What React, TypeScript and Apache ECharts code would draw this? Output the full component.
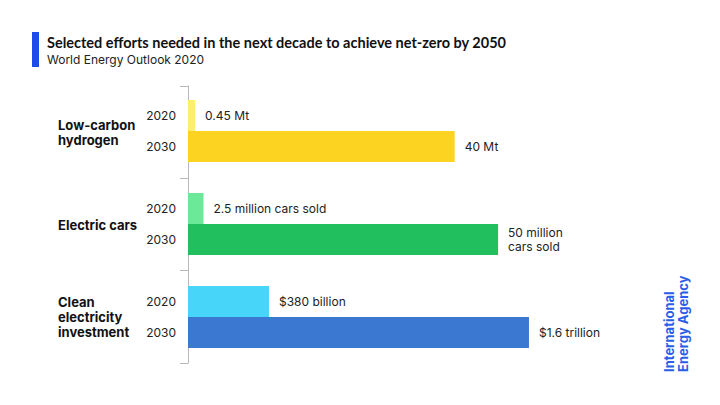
import React, { useEffect, useRef } from "react";
import * as echarts from "echarts";

const groups = ["Low-carbon\nhydrogen", "Electric cars", "Clean\nelectricity\ninvestment"];
const years = ["2020", "2030"];
const hydrogenValues = [0.45, 40]; // Mt
const carsValues = [2.5, 50]; // million cars sold
const investmentValues = [380, 1600]; // billion USD
const hydrogenLabels = ["0.45 Mt", "40 Mt"];
const carsLabels = ["2.5 million cars sold", "50 million\ncars sold"];
const investmentLabels = ["$380 billion", "$1.6 trillion"];
const groupAxisMax = [60, 64.5, 1877];

const groupValues = [hydrogenValues, carsValues, investmentValues];
const groupLabels = [hydrogenLabels, carsLabels, investmentLabels];
const groupColors = [
  ["#fdef6b", "#fbd320"],
  ["#6ce899", "#21bf5d"],
  ["#48d5fa", "#3a78d2"],
];
const groupTops = [100, 193, 286];

const FONT = "Inter, 'Noto Sans', sans-serif";
const TITLE_FONT = "Lato, Inter, sans-serif";

export default function App() {
  const ref = useRef<HTMLDivElement>(null);
  useEffect(() => {
    document.body.style.margin = "0";
    const chart = echarts.init(ref.current!, null, { renderer: "svg" });
    const grids: any[] = [{ left: 188, top: 86, width: 400, height: 277 }];
    const xAxes: any[] = [{ gridIndex: 0, type: "value", show: false, min: 0, max: 1 }];
    const yAxes: any[] = [
      {
        gridIndex: 0,
        type: "category",
        inverse: true,
        data: groups,
        axisLine: { show: true, lineStyle: { color: "#b8b8b8", width: 1 } },
        axisTick: { show: true, length: 8, lineStyle: { color: "#b8b8b8" } },
        axisLabel: {
          align: "left",
          margin: 130,
          fontFamily: FONT,
          fontSize: 13,
          fontWeight: "bold",
          color: "#111",
          lineHeight: 15,
        },
      },
    ];
    const series: any[] = [];
    groupValues.forEach((vals, g) => {
      const gi = g + 1;
      grids.push({ left: 188, top: groupTops[g], width: 400, height: 62 });
      xAxes.push({ gridIndex: gi, type: "value", min: 0, max: groupAxisMax[g], show: false });
      yAxes.push({
        gridIndex: gi,
        type: "category",
        inverse: true,
        data: years,
        axisLine: { show: false },
        axisTick: { show: false },
        axisLabel: { margin: 12, fontFamily: FONT, fontSize: 12, color: "#222" },
      });
      series.push({
        type: "bar",
        xAxisIndex: gi,
        yAxisIndex: gi,
        barWidth: "100%",
        barMinHeight: 7,
        data: vals.map((v, i) => ({
          value: v,
          itemStyle: { color: groupColors[g][i] },
          label: { formatter: groupLabels[g][i] },
        })),
        label: {
          show: true,
          position: "right",
          distance: 10,
          fontFamily: FONT,
          fontSize: 12,
          color: "#222",
          lineHeight: 14,
        },
      });
    });
    chart.setOption({
      animation: false,
      backgroundColor: "#fff",
      title: {
        text: "Selected efforts needed in the next decade to achieve net-zero by 2050",
        subtext: "World Energy Outlook 2020",
        left: 47,
        top: 35,
        itemGap: 3,
        padding: 0,
        textStyle: { fontFamily: TITLE_FONT, fontSize: 14.5, fontWeight: "bold", color: "#111" },
        subtextStyle: { fontFamily: FONT, fontSize: 12, color: "#222" },
      },
      grid: grids,
      xAxis: xAxes,
      yAxis: yAxes,
      series,
      graphic: [
        { type: "rect", shape: { x: 32, y: 32, width: 7, height: 35 }, style: { fill: "#1a4ee6" } },
        {
          type: "text",
          x: 662,
          y: 372,
          rotation: Math.PI / 2,
          style: {
            text: "International\nEnergy Agency",
            fontFamily: FONT,
            fontSize: 13,
            fontWeight: "bold",
            fill: "#2b5ee6",
            lineHeight: 14,
            textAlign: "left",
            textVerticalAlign: "top",
          },
        },
      ],
    });
    return () => chart.dispose();
  }, []);
  return <div ref={ref} style={{ width: 720, height: 405 }} />;
}
